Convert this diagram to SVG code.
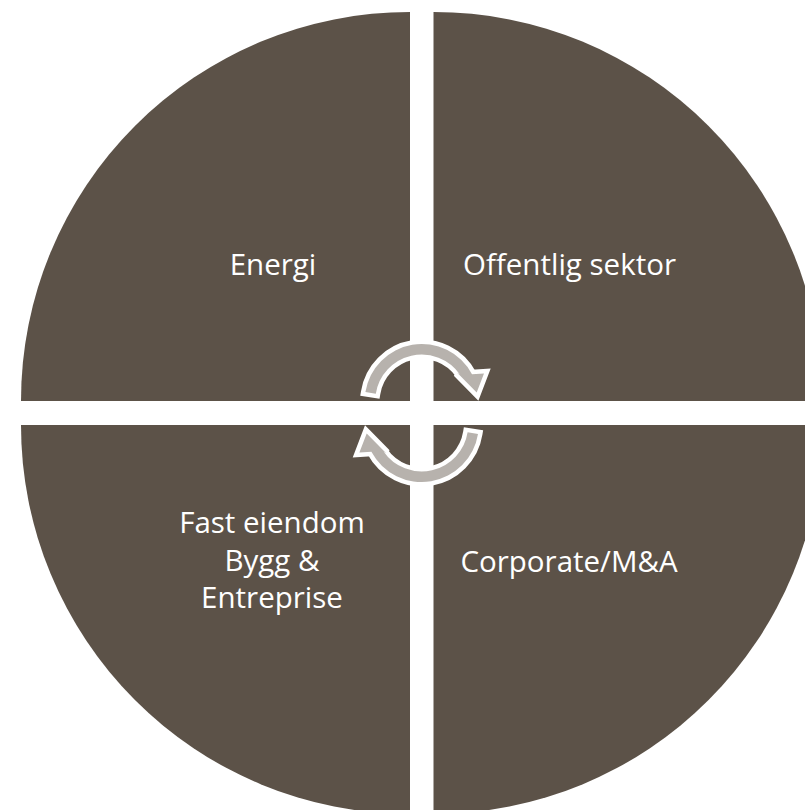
<svg xmlns="http://www.w3.org/2000/svg" width="805" height="810" viewBox="0 0 805 810">
  <style>
    .q { fill: #5C5248; }
    .lbl { font-family: "Open Sans", "Liberation Sans", sans-serif; font-size: 29.5px; fill: #FFFFFF; text-anchor: middle; }
    .arr { fill: #B7B2AD; stroke: #FFFFFF; stroke-width: 9; stroke-linejoin: miter; paint-order: stroke; }
  </style>
  <defs>
    <path id="arrowShape" d="M365.4,392.1 A57,57 0 0 1 472.0,374.2 L484,373.5 L476.7,392.5 L457,372.5 L459.9,374.5 A46.5,46.5 0 0 0 375.8,393.7 Z"/>
  </defs>
  <rect width="805" height="810" fill="#FFFFFF"/>
  <g id="energi">
    <path class="q" d="M410,401 L21,401 A389,389 0 0 1 410,12 Z"/>
    <text class="lbl" x="273" y="275">Energi</text>
  </g>
  <g id="offentlig">
    <path class="q" d="M433.5,401 L433.5,12 A389,389 0 0 1 822.5,401 Z"/>
    <text class="lbl" x="569.5" y="275">Offentlig sektor</text>
  </g>
  <g id="fast-eiendom">
    <path class="q" d="M410,425 L410,814 A389,389 0 0 1 21,425 Z"/>
    <text class="lbl" x="272" y="533">Fast eiendom</text>
    <text class="lbl" x="272" y="570.5">Bygg &amp;</text>
    <text class="lbl" x="272" y="608">Entreprise</text>
  </g>
  <g id="corporate">
    <path class="q" d="M433.5,425 L822.5,425 A389,389 0 0 1 433.5,814 Z"/>
    <text class="lbl" x="569" y="572">Corporate/M&amp;A</text>
  </g>
  <g id="connectors">
    <use href="#arrowShape" class="arr"/>
    <use href="#arrowShape" class="arr" transform="rotate(180 421.7 413)"/>
  </g>
</svg>
